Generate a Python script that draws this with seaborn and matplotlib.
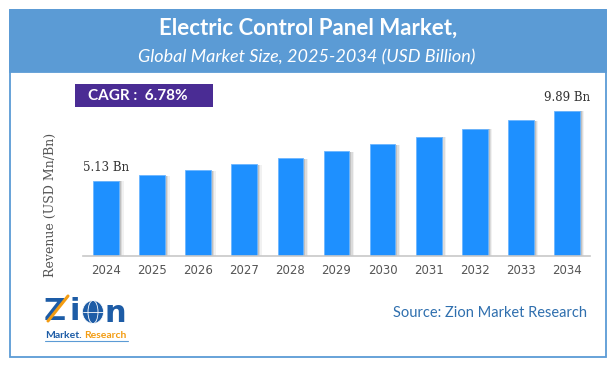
import numpy as np
import matplotlib
matplotlib.use('Agg')
import matplotlib.pyplot as plt
from matplotlib.patches import Rectangle, Ellipse
import seaborn as sns

years = ['2024', '2025', '2026', '2027', '2028', '2029',
         '2030', '2031', '2032', '2033', '2034']
revenue = [5.13, 5.48, 5.85, 6.24, 6.67, 7.12, 7.60, 8.12, 8.67, 9.26, 9.89]
label_idx = [0, 10]   # bars that carry a value label

title = 'Electric Control Panel Market,'
subtitle = 'Global Market Size, 2025-2034 (USD Billion)'
cagr_text = 'CAGR :  6.78%'
ylabel = 'Revenue (USD Mn/Bn)'
source = 'Source: Zion Market Research'

W, H = 616, 368
BLUE = '#5B9BD5'
BAR = '#1E90FF'
LOGO_BLUE = '#1D5CA6'
LOGO_ORANGE = '#F39C12'


def px(x, y):
    # pixel position (from top-left) -> figure fraction
    return x / W, 1 - y / H


sns.set_style('white')
fig = plt.figure(figsize=(W / 100, H / 100), dpi=100)
fig.patch.set_facecolor('white')

# outer frame + header band
x0, y0 = px(10, 357)
fig.patches.append(Rectangle((x0, y0), 596 / W, 347 / H, transform=fig.transFigure,
                             facecolor='none', edgecolor=BLUE, lw=1.3, zorder=5))
hx, hy = px(10, 72)
fig.patches.append(Rectangle((hx, hy), 596 / W, 62 / H, transform=fig.transFigure,
                             facecolor=BLUE, edgecolor=BLUE, lw=1.3, zorder=1))

fig.text(*px(308, 28), title, ha='center', va='center', color='white',
         fontsize=16, fontweight='bold', family='Lato', zorder=6)
fig.text(*px(307, 57), subtitle, ha='center', va='center', color='white',
         fontsize=13, style='italic', family='Lato', zorder=6)

# CAGR badge
cx, cy = px(75, 107)
fig.patches.append(Rectangle((cx, cy), 138 / W, 23 / H, transform=fig.transFigure,
                             facecolor='#4A2C94', edgecolor='none', zorder=2))
fig.text(*px(88, 96), cagr_text, ha='left', va='center', color='white',
         fontsize=11, fontweight='bold', family='Lato', zorder=3)

# bar chart
left, bottom = px(83, 256)
right, top = px(590, 100)
ax = fig.add_axes([left, bottom, right - left, top - bottom])
ax.set_facecolor('none')

pos = np.arange(len(years))
# soft shadow to the right of each bar
for off, a in [(0.10, 0.10), (0.07, 0.18), (0.04, 0.28)]:
    ax.bar(pos + off, np.array(revenue) - 0.04, width=0.56, color='#7a7a7a',
           alpha=a, linewidth=0, zorder=1)

sns.barplot(x=years, y=revenue, color=BAR, width=0.56, saturation=1,
            edgecolor='#6CB6FF', linewidth=0.6, ax=ax, zorder=2)

for i in label_idx:
    ax.text(pos[i], revenue[i] + 0.45, f'{revenue[i]:.2f} Bn', ha='center',
            va='bottom', fontsize=8.5, family='DejaVu Serif', color='#333333')

ax.set_xlim(-0.5, len(years) - 0.5)
ax.set_ylim(0, 156 / 14.69)
ax.set_yticks([])
ax.set_xlabel('')
ax.set_ylabel('')
for s in ['top', 'right', 'left']:
    ax.spines[s].set_visible(False)
ax.spines['bottom'].set_color('#C8C8C8')
ax.spines['bottom'].set_linewidth(1.2)
ax.tick_params(axis='x', length=0, pad=6, labelsize=8.5, labelcolor='#555555')

fig.text(*px(50, 205), ylabel, rotation=90, ha='center', va='center',
         fontsize=9, family='DejaVu Serif', color='#555555')

# source
fig.text(*px(587, 313), source, ha='right', va='center', color='#2F6FAE',
         fontsize=10.5, family='Lato')

# logo (rough approximation: Z, i, globe, n + tagline)
fig.text(*px(44, 312), 'Z', ha='left', va='center', color=LOGO_BLUE,
         fontsize=22, fontweight='bold', family='DejaVu Sans')
fig.text(*px(70, 312), 'i', ha='left', va='center', color=LOGO_BLUE,
         fontsize=22, fontweight='bold', family='DejaVu Sans')
gx, gy = px(93, 312)
fig.patches.append(Ellipse((gx, gy), 21 / W, 23 / H, transform=fig.transFigure,
                           facecolor=LOGO_BLUE, edgecolor='white', lw=0.5, zorder=3))
fig.patches.append(Ellipse((gx, gy), 10 / W, 23 / H, transform=fig.transFigure,
                           facecolor='none', edgecolor='white', lw=0.6, zorder=4))
fig.add_artist(plt.Line2D([83 / W, 103 / W], [gy, gy], color='white', lw=0.6, zorder=4))
fig.text(*px(105, 314), 'n', ha='left', va='center', color=LOGO_BLUE,
         fontsize=22, fontweight='bold', family='DejaVu Sans')
fig.add_artist(plt.Line2D([48 / W, 68 / W], [1 - 321 / H, 1 - 296 / H],
                          color=LOGO_ORANGE, lw=2.2, zorder=6))
fig.text(*px(45, 335), 'Market.', ha='left', va='center', color=LOGO_BLUE,
         fontsize=7.5, fontweight='bold', family='Lato')
fig.text(*px(84, 335), 'Research', ha='left', va='center', color=LOGO_ORANGE,
         fontsize=7.5, fontweight='bold', family='Lato')
fig.add_artist(plt.Line2D([45 / W, 128 / W], [1 - 341 / H, 1 - 341 / H],
                          color=BLUE, lw=0.8))

fig.savefig('out.png', dpi=100)
